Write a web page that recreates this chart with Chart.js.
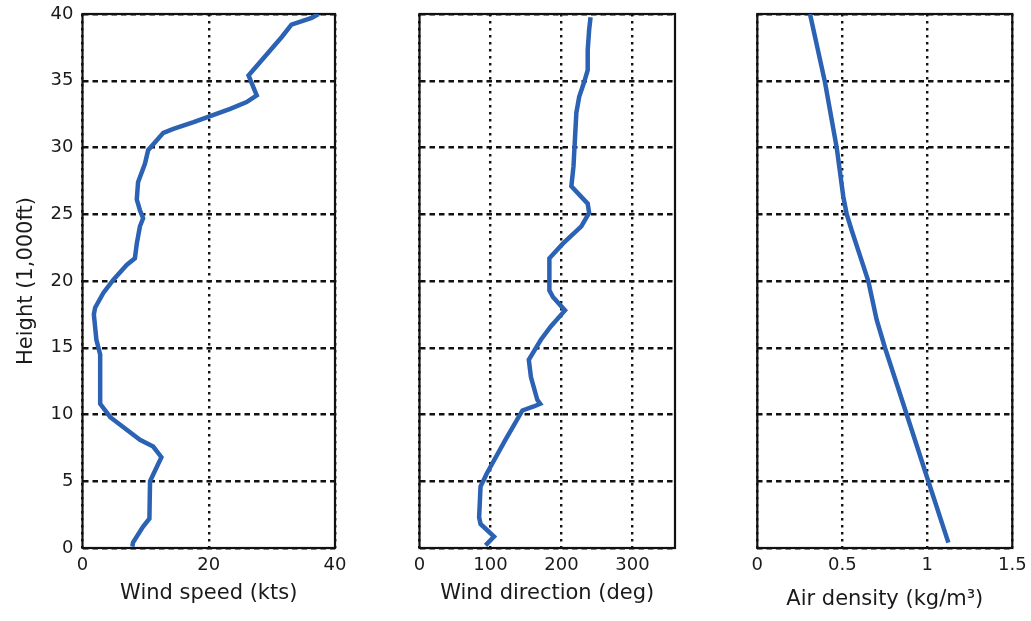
<!DOCTYPE html>
<html>
<head>
<meta charset="utf-8">
<script src="https://cdn.jsdelivr.net/npm/chart.js@4/dist/chart.umd.min.js"></script>
<style>
  html, body { margin: 0; padding: 0; background: #fff; }
  #wrap { position: relative; width: 1031px; height: 621px; overflow: hidden; }
  .panel { position: absolute; top: 0; height: 621px; }
</style>
</head>
<body>
<div id="wrap">
  <div class="panel" style="left:0;width:360px"><canvas id="speedChart"></canvas></div>
  <div class="panel" style="left:360px;width:340px"><canvas id="dirChart"></canvas></div>
  <div class="panel" style="left:700px;width:331px"><canvas id="densChart"></canvas></div>
</div>
<script>
// height profile, 1,000 ft
var heightTicks = [0, 5, 10, 15, 20, 25, 30, 35, 40];

var speedTicks = [0, 20, 40];
var speedHeights = [0.1, 0.4, 1.6, 2.2, 5.0, 5.8, 6.8, 7.6, 8.1, 9.8, 10.8, 11.1, 14.5, 15.6, 17.5, 18.0, 19.1, 20.1, 21.2, 21.7, 22.8, 24.1, 24.7, 25.3, 26.1, 27.4, 28.8, 29.8, 31.1, 31.4, 31.9, 32.3, 32.9, 33.4, 33.9, 35.4, 38.3, 39.2, 39.7, 40.0];
var speedKts = [7.9, 8.0, 9.6, 10.6, 10.7, 11.5, 12.5, 11.2, 9.1, 4.4, 2.8, 2.8, 2.8, 2.2, 1.8, 2.0, 3.3, 4.9, 7.0, 8.3, 8.6, 9.1, 9.6, 9.1, 8.6, 8.8, 9.9, 10.4, 12.8, 14.4, 17.6, 19.9, 23.4, 26.0, 27.6, 26.3, 31.6, 33.1, 36.3, 37.4];

var dirTicks = [0, 100, 200, 300];
var dirHeights = [0.2, 0.85, 1.8, 2.3, 4.6, 5.6, 8.1, 10.3, 10.6, 10.8, 11.1, 12.8, 14.1, 15.6, 16.6, 17.8, 18.8, 19.3, 21.7, 22.8, 24.1, 25.1, 25.8, 26.3, 27.1, 28.6, 30.6, 32.6, 33.8, 34.9, 35.8, 37.3, 38.8, 39.75];
var dirDeg = [93, 105, 86, 84, 86, 95, 121, 145, 161, 170, 166, 157, 154, 171, 185, 205, 188, 183, 183, 202, 228, 239, 237, 228, 214, 217, 219, 221, 225, 232, 237, 237, 239, 241];

var densTicks = [0, 0.5, 1, 1.5];
var densHeights = [0.4, 5.0, 10.0, 15.0, 17.1, 20.0, 21.9, 23.8, 25.0, 26.3, 30.0, 34.9, 40.0];
var densKg = [1.124, 1.006, 0.879, 0.751, 0.702, 0.653, 0.604, 0.555, 0.526, 0.506, 0.467, 0.398, 0.31];

(function () {
  var lineCol = "#2c62b4",
    tc = "#1a1a1a",
    gc = "#111";
  var tickFont = { family: "DejaVu Sans", size: 18 },
    titleFont = { family: "DejaVu Sans", size: 21 };

  var framePlugin = {
    id: "frame",
    beforeDatasetsDraw: function (chart) {
      var a = chart.chartArea, ctx = chart.ctx;
      ctx.save();
      ctx.strokeStyle = gc;
      ctx.lineWidth = 2.2;
      ctx.strokeRect(a.left, a.top, a.right - a.left, a.bottom - a.top);
      ctx.restore();
    },
  };

  function fixedTicks(arr) {
    return function (s) {
      s.ticks = arr.map(function (v) { return { value: v }; });
    };
  }

  function toPoints(xs, ys) {
    return xs.map(function (v, i) { return { x: v, y: ys[i] }; });
  }

  function makeChart(id, xs, hs, xMax, xTicks, xTitle, leftW, rightPad, titlePadBottom, showY) {
    new Chart(document.getElementById(id), {
      type: "scatter",
      data: {
        datasets: [{ data: toPoints(xs, hs), showLine: true, borderColor: lineCol, borderWidth: 4.5, pointRadius: 0, tension: 0, fill: false }],
      },
      plugins: [framePlugin],
      options: {
        responsive: true,
        maintainAspectRatio: false,
        animation: false,
        layout: { padding: { top: 14, right: rightPad, bottom: 0, left: 0 } },
        plugins: { legend: { display: false }, tooltip: { enabled: false } },
        scales: {
          x: {
            type: "linear",
            min: 0,
            max: xMax,
            afterBuildTicks: fixedTicks(xTicks),
            afterFit: function (s) { s.height = 73; s.paddingLeft = 0; s.paddingRight = 0; },
            grid: { color: gc, lineWidth: 2.4, drawTicks: false },
            border: { display: false, dash: [2.5, 4.5] },
            ticks: { color: tc, font: tickFont, padding: 7, maxRotation: 0, callback: function (v) { return String(v); } },
            title: { display: true, text: xTitle, color: tc, font: titleFont, padding: { top: 0, bottom: titlePadBottom } },
          },
          y: {
            type: "linear",
            min: 0,
            max: 40,
            afterBuildTicks: fixedTicks(heightTicks),
            afterFit: function (s) { s.width = leftW; s.paddingTop = 0; s.paddingBottom = 0; },
            grid: { color: gc, lineWidth: 2.4, drawTicks: false },
            border: { display: false, dash: [5.5, 4] },
            ticks: { display: showY, color: tc, font: tickFont, padding: 9 },
            title: { display: showY, text: "Height (1,000ft)", color: tc, font: titleFont, padding: { top: 14, bottom: 0 } },
          },
        },
      },
    });
  }

  window.addEventListener("load", function () {
    makeChart("speedChart", speedKts, speedHeights, 40, speedTicks, "Wind speed (kts)", 82.5, 25, 15, true);
    makeChart("dirChart", dirDeg, dirHeights, 360, dirTicks, "Wind direction (deg)", 59.5, 25, 15, false);
    makeChart("densChart", densKg, densHeights, 1.5, densTicks, "Air density (kg/m\u00b3)", 57.3, 18.7, 9, false);
  });
})();
</script>
</body>
</html>
